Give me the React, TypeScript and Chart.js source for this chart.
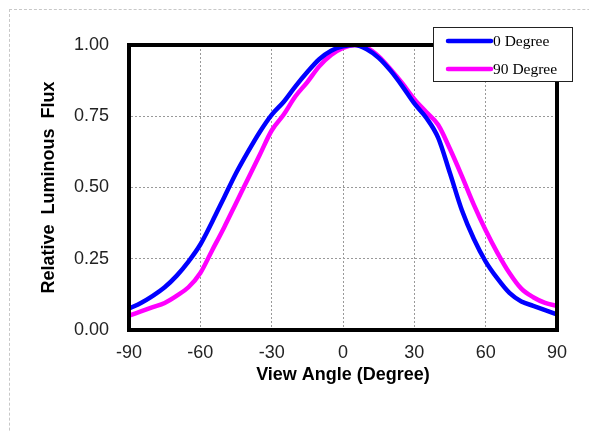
import React, { useEffect, useRef } from "react";
import { Chart, registerables } from "chart.js";

Chart.register(...registerables);

const angles = [-90, -85, -80, -75, -70, -65, -60, -55, -50, -45, -40, -35, -30, -25, -20, -15, -10, -5, 0, 5, 10, 15, 20, 25, 30, 35, 40, 45, 50, 55, 60, 65, 70, 75, 80, 85, 90];
const deg0 = [0.075, 0.095, 0.12, 0.15, 0.19, 0.24, 0.3, 0.38, 0.465, 0.55, 0.625, 0.695, 0.755, 0.8, 0.855, 0.905, 0.95, 0.98, 0.995, 1.0, 0.985, 0.955, 0.91, 0.855, 0.795, 0.745, 0.675, 0.55, 0.42, 0.32, 0.24, 0.18, 0.13, 0.1, 0.085, 0.07, 0.055];
const deg90 = [0.05, 0.065, 0.08, 0.095, 0.12, 0.15, 0.2, 0.28, 0.36, 0.445, 0.53, 0.615, 0.7, 0.755, 0.82, 0.87, 0.925, 0.965, 0.99, 1.0, 0.99, 0.96, 0.915, 0.865, 0.81, 0.765, 0.72, 0.635, 0.54, 0.44, 0.35, 0.27, 0.2, 0.145, 0.115, 0.095, 0.085];
const seriesNames = ["0 Degree", "90 Degree"];
const seriesColors = ["#0000FF", "#FF00FF"];
const xTicksStep = 30;
const yTicksStep = 0.25;
const xTitle = "View Angle (Degree)";
const yTitle = "Relative  Luminous  Flux";

const SANS = "'Liberation Sans', Arial, sans-serif";

const framePlugin = {
  id: "frameAndLegend",
  afterDraw(chart: any) {
    const { ctx, chartArea } = chart;
    ctx.save();
    ctx.strokeStyle = "#000";
    ctx.lineWidth = 4;
    ctx.setLineDash([]);
    ctx.strokeRect(chartArea.left, chartArea.top, chartArea.right - chartArea.left, chartArea.bottom - chartArea.top);
    // legend box
    const bx = 433.5, by = 27.5, bw = 139, bh = 54;
    ctx.fillStyle = "#fff";
    ctx.fillRect(bx, by, bw, bh);
    ctx.lineWidth = 1;
    ctx.strokeStyle = "#222";
    ctx.strokeRect(bx, by, bw, bh);
    const ys = [41, 69];
    chart.data.datasets.forEach((ds: any, i: number) => {
      ctx.strokeStyle = ds.borderColor;
      ctx.lineWidth = 4.5;
      ctx.lineCap = "round";
      ctx.beginPath();
      ctx.moveTo(448, ys[i]);
      ctx.lineTo(491, ys[i]);
      ctx.stroke();
      ctx.fillStyle = "#000";
      ctx.font = "15.5px 'Liberation Serif', serif";
      ctx.textBaseline = "middle";
      ctx.textAlign = "left";
      ctx.fillText(ds.label, 493, ys[i] + 1);
    });
    ctx.restore();
  },
};

export default function App() {
  const ref = useRef<HTMLCanvasElement | null>(null);
  useEffect(() => {
    if (!ref.current) return;
    const chart = new Chart(ref.current, {
      type: "line",
      data: {
        datasets: [deg0, deg90].map((vals, i) => ({
          label: seriesNames[i],
          data: angles.map((a, j) => ({ x: a, y: vals[j] })),
          borderColor: seriesColors[i],
          backgroundColor: seriesColors[i],
          borderWidth: 4.5,
          pointRadius: 0,
          cubicInterpolationMode: "monotone" as const,
          fill: false,
        })),
      },
      options: {
        animation: false,
        responsive: false,
        maintainAspectRatio: false,
        layout: { padding: { left: 0, top: 45, right: 32, bottom: 42 } },
        plugins: { legend: { display: false }, tooltip: { enabled: false } },
        scales: {
          x: {
            type: "linear",
            min: -90,
            max: 90,
            afterFit: (s: any) => { s.height = 60; },
            ticks: {
              stepSize: xTicksStep,
              padding: 12,
              color: "#222",
              font: { family: SANS, size: 18 },
              maxRotation: 0,
            },
            grid: { color: "#999", drawTicks: false, lineWidth: 1 },
            border: { display: true, color: "#000", width: 4, dash: [2, 2] },
            title: {
              display: true,
              text: xTitle,
              color: "#000",
              font: { family: SANS, size: 18, weight: "bold" },
              padding: { top: 0, bottom: 4 },
            },
          },
          y: {
            type: "linear",
            min: 0,
            max: 1,
            afterFit: (s: any) => { s.width = 129; },
            ticks: {
              stepSize: yTicksStep,
              padding: 20,
              color: "#222",
              font: { family: SANS, size: 18 },
              callback: (v: any) => Number(v).toFixed(2),
            },
            grid: { color: "#999", drawTicks: false, lineWidth: 1 },
            border: { display: true, color: "#000", width: 4, dash: [2, 2] },
            title: {
              display: true,
              text: yTitle,
              color: "#000",
              font: { family: SANS, size: 18, weight: "bold" },
              padding: { top: 38, bottom: 0 },
            },
          },
        },
      },
      plugins: [framePlugin],
    });
    return () => chart.destroy();
  }, []);
  return (
    <div style={{ position: "absolute", left: 0, top: 0, width: 589, height: 432, overflow: "hidden", background: "#fff" }}>
      <div style={{ position: "absolute", left: 9, top: 9, width: 700, height: 600, borderTop: "1px dashed #c8c8c8", borderLeft: "1px dashed #c8c8c8" }} />
      <canvas ref={ref} width={589} height={432} style={{ position: "absolute", left: 0, top: 0, width: 589, height: 432 }} />
    </div>
  );
}
